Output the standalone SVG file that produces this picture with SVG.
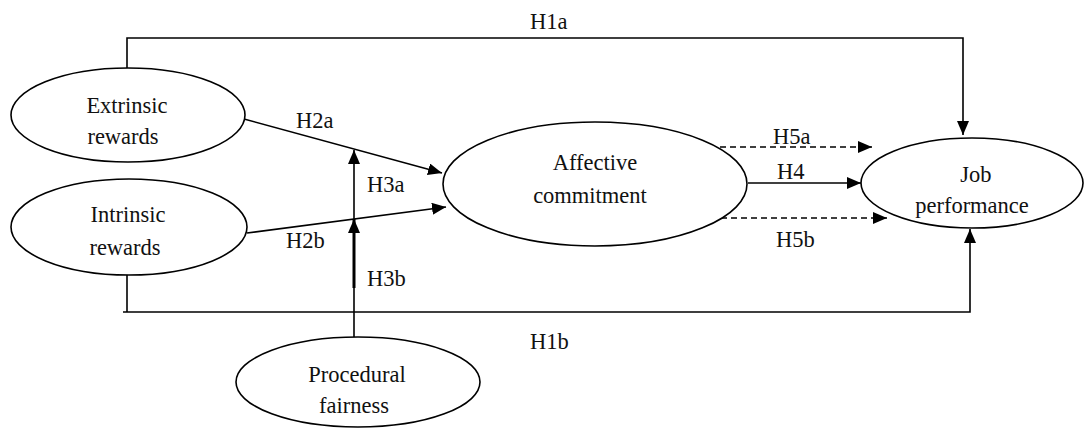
<svg xmlns="http://www.w3.org/2000/svg" width="1084" height="428" viewBox="0 0 1084 428">
<defs>
<style>
.node ellipse{fill:#fff;stroke:#000;stroke-width:1.6}
text{font-family:"Liberation Serif","Times New Roman",serif;font-size:22.5px;fill:#111}
.nt{text-anchor:middle}
.c{fill:none;stroke:#000;stroke-width:1.6}
.d{stroke-dasharray:6 4}
</style>
<marker id="ah" markerUnits="userSpaceOnUse" markerWidth="15" markerHeight="13" refX="14" refY="6" orient="auto">
<path d="M0,0 L14,6 L0,12 z" fill="#000"/>
</marker>
</defs>
<rect width="1084" height="428" fill="#fff"/>
<g id="connectors">
<path class="c" d="M127,68 V38 H963 V135" marker-end="url(#ah)"/>
<path class="c" d="M127,275 V312"/>
<path class="c" d="M123,312 H970 V229" marker-end="url(#ah)"/>
<line class="c" x1="244" y1="119" x2="442" y2="173" marker-end="url(#ah)"/>
<line class="c" x1="247" y1="233" x2="446" y2="207" marker-end="url(#ah)"/>
<line class="c" x1="354" y1="219" x2="354" y2="150" marker-end="url(#ah)"/>
<line class="c" x1="354" y1="337" x2="354" y2="287"/>
<line class="c" style="stroke-width:3" x1="354" y1="288" x2="354" y2="219" marker-end="url(#ah)"/>
<line class="c" x1="748" y1="183" x2="861" y2="183" marker-end="url(#ah)"/>
<line class="c d" x1="720" y1="147" x2="872" y2="147" marker-end="url(#ah)"/>
<line class="c d" x1="721" y1="218" x2="887" y2="218" marker-end="url(#ah)"/>
<text x="530" y="29">H1a</text>
<text x="530" y="349">H1b</text>
<text x="296" y="128">H2a</text>
<text x="286" y="248">H2b</text>
<text x="367" y="192">H3a</text>
<text x="367" y="286">H3b</text>
<text x="777" y="179">H4</text>
<text x="773" y="144">H5a</text>
<text x="776" y="247">H5b</text>
</g>
<g id="extrinsic" class="node">
<ellipse cx="128" cy="115" rx="117" ry="47"/>
<text class="nt" x="127" y="113">Extrinsic</text>
<text class="nt" x="123" y="144">rewards</text>
</g>
<g id="intrinsic" class="node">
<ellipse cx="129" cy="227" rx="118" ry="48"/>
<text class="nt" x="128" y="222">Intrinsic</text>
<text class="nt" x="125" y="255">rewards</text>
</g>
<g id="affective" class="node">
<ellipse cx="595" cy="184" rx="152" ry="62"/>
<text class="nt" x="595" y="170">Affective</text>
<text class="nt" x="590" y="203">commitment</text>
</g>
<g id="job" class="node">
<ellipse cx="972" cy="183" rx="111" ry="45"/>
<text class="nt" x="976" y="182">Job</text>
<text class="nt" x="972" y="213">performance</text>
</g>
<g id="procedural" class="node">
<ellipse cx="358" cy="382" rx="122" ry="45"/>
<text class="nt" x="357" y="382">Procedural</text>
<text class="nt" x="354" y="413">fairness</text>
</g>
</svg>
